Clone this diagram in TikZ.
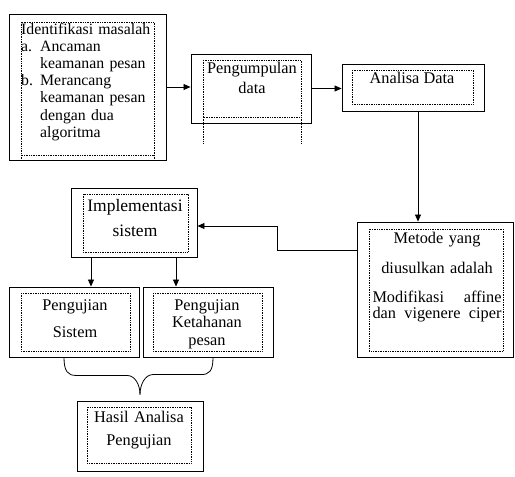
\documentclass[tikz,border=0pt]{standalone}
\usepackage{fontspec}
\setmainfont{Liberation Serif}
\usetikzlibrary{arrows.meta}

\tikzset{
  kotak/.style={draw,line width=0.9pt,inner sep=0pt},
  titik/.style={draw,densely dotted,line width=0.7pt},
  panah/.style={-{Triangle[length=7pt,width=6pt]},line width=0.8pt},
  garis/.style={line width=0.8pt},
  teks/.style={inner sep=0pt,anchor=base,align=center,font=\fontsize{16.3}{20}\selectfont},
}

\begin{document}
\begin{tikzpicture}[x=1pt,y=-1pt]
      \useasboundingbox (0,0) rectangle (515,477);
      % kotak luar
      \node[kotak,minimum width=157,minimum height=146] (masalah) at (87.5,87) {};
      \node[kotak,minimum width=120,minimum height=69] (kumpul) at (251,88.5) {};
      \node[kotak,minimum width=142,minimum height=47] (analisa) at (413,87.5) {};
      \node[kotak,minimum width=156,minimum height=135] (metode) at (435,289.5) {};
      \node[kotak,minimum width=126,minimum height=69] (implementasi) at (134,222.5) {};
      \node[kotak,minimum width=130,minimum height=70] (sistem) at (74,322) {};
      \node[kotak,minimum width=130,minimum height=70] (ketahanan) at (208,322) {};
      \node[kotak,minimum width=126,minimum height=70] (hasil) at (140,436) {};
      % kotak titik-titik
      \foreach \a/\b/\c/\d in {21/22/154/155, 203/60/301/117, 352/70/473/104,
        369/229/503/351, 83/194/188/252, 21/293/130/351, 153/293/262/351, 87/407/191/463} {%
        \draw[titik] (\a,\b) rectangle (\c,\d);
      }
      \draw[titik] (21,155) -- (21,160) (154,155) -- (154,160);
      \draw[titik] (203,117) -- (203,143) (301,117) -- (301,143);
      % teks
      \node[teks,anchor=base west,align=left,text width=140pt,font=\fontsize{15.8}{17.2}\selectfont] (tmasalah) at (21,34)
        {Identifikasi masalah\\\makebox[19pt][l]{a.}Ancaman\\\hspace*{19pt}keamanan pesan\\
         \makebox[19pt][l]{b.}Merancang\\\hspace*{19pt}keamanan pesan\\\hspace*{19pt}dengan dua\\
         \hspace*{19pt}algoritma};
      \node[teks,text width=110pt] (tkumpul) at (252,73) {Pengumpulan\\data};
      \node[teks] (tanalisa) at (412,83) {Analisa Data};
      \node[teks,text width=120pt,font=\fontsize{17.5}{25}\selectfont] (timplementasi) at (135,211) {Implementasi\\sistem};
      \node[teks,text width=134pt] (tmetode) at (437,243)
        {Metode yang\\[10pt]diusulkan adalah\\[9pt]\makebox[129pt][s]{Modifikasi\hfill affine}\\[-4pt]
         \makebox[129pt][s]{dan\hfill vigenere\hfill ciper}};
      \node[teks,text width=110pt,font=\fontsize{16.3}{27}\selectfont] (tsistem) at (75,310) {Pengujian\\Sistem};
      \node[teks,text width=110pt,font=\fontsize{16.3}{17.5}\selectfont] (tketahanan) at (207,310) {Pengujian\\Ketahanan\\pesan};
      \node[teks,text width=110pt,font=\fontsize{16.3}{23}\selectfont] (thasil) at (139,422) {Hasil Analisa\\Pengujian};
      % panah
      \draw[panah] (masalah.east) -- (masalah.east -| kumpul.west);
      \draw[panah] (kumpul.east) -- (kumpul.east -| analisa.west);
      \draw[panah] ([xshift=5pt]analisa.south) -- ([xshift=5pt]analisa.south |- metode.north);
      \coordinate (belok) at (277,250);
      \draw[panah] (metode.west |- belok) -- (belok) |- ([yshift=-3.5pt]implementasi.east);
      \draw[panah] ([xshift=-43pt]implementasi.south) -- ([xshift=-43pt]implementasi.south |- sistem.north);
      \draw[panah] ([xshift=42pt]implementasi.south) -- ([xshift=42pt]implementasi.south |- ketahanan.north);
      % kurung kurawal
      \coordinate (ujung) at ([yshift=6pt]hasil.north);
      \draw[garis] ([xshift=-10pt]sistem.south) .. controls +(0,14) and +(-8,0) .. ++(12,18) -- ++(51,0)
        .. controls +(8,0) and +(0,-10) .. (ujung);
      \draw[garis] (ujung) .. controls +(0,-10) and +(-8,0) .. ++(13,-20) -- ++(48,0)
        .. controls +(8,0) and +(0,14) .. ([xshift=5pt]ketahanan.south);
\end{tikzpicture}
\end{document}
